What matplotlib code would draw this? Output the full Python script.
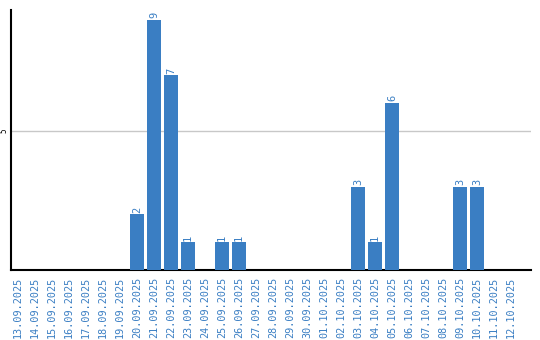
import numpy as np
import matplotlib
matplotlib.use("Agg")
import matplotlib.pyplot as plt
import pandas as pd

# daily counts, 13.09.2025 .. 12.10.2025
dates = pd.date_range("2025-09-13", "2025-10-12", freq="D")
labels = [d.strftime("%d.%m.%Y") for d in dates]
counts = [0, 0, 0, 0, 0, 0, 0, 2, 9, 7, 1, 0, 1, 1, 0,
          0, 0, 0, 0, 0, 3, 1, 6, 0, 0, 0, 3, 3, 0, 0]

blue = "#3a7ec3"

fig = plt.figure(figsize=(5.4, 3.4), dpi=100)
ax = fig.add_axes([11 / 540, 1 - 270 / 340, 520 / 540, 260 / 340])

x = np.arange(len(labels))
bars = ax.bar(x, counts, width=0.82, color=blue, zorder=3)

for xi, c in zip(x, counts):
    if c > 0:
        ax.text(xi, c + 0.06, str(c), rotation=90, ha="center", va="bottom",
                color=blue, fontsize=7.5, family="DejaVu Sans Mono")

ax.set_xlim(-0.41, 30.18)
ax.set_ylim(0, 9.35)

ax.set_yticks([5])
ax.set_yticklabels(["5"], rotation=90, va="center", fontsize=5.5,
                   family="DejaVu Sans Mono")
ax.yaxis.grid(True, color="#c8c8c8", linewidth=1, zorder=0)

ax.set_xticks(x)
ax.set_xticklabels(labels, rotation=90, fontsize=7.3, color=blue,
                   family="DejaVu Sans Mono")
ax.tick_params(axis="x", length=0, pad=5)
ax.tick_params(axis="y", length=0, pad=2)

for s in ["top", "right"]:
    ax.spines[s].set_visible(False)
for s in ["left", "bottom"]:
    ax.spines[s].set_color("black")
    ax.spines[s].set_linewidth(1.5)

fig.savefig("out.png", dpi=100)
